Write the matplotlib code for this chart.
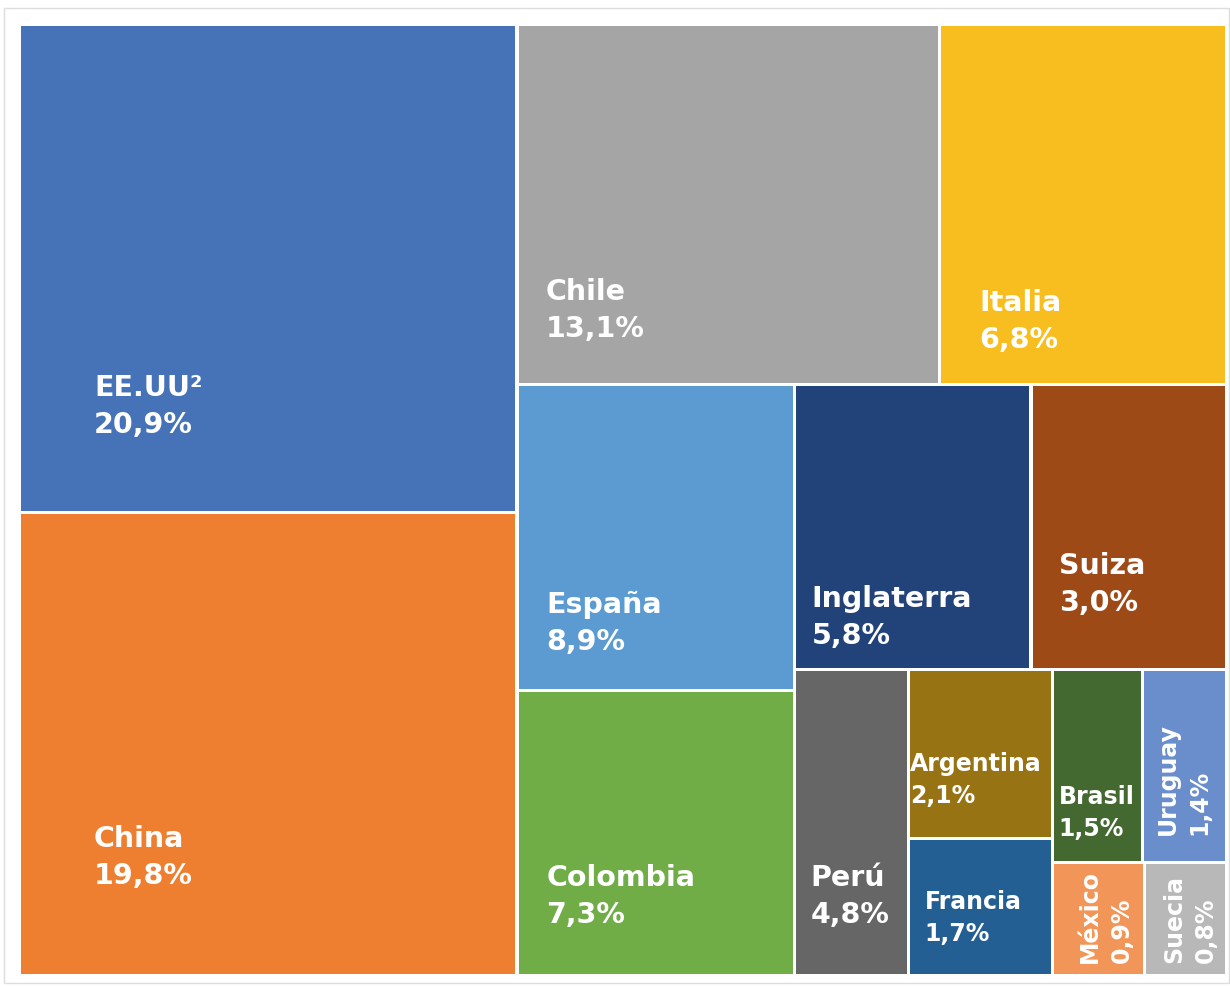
import matplotlib
matplotlib.use("Agg")
import matplotlib.pyplot as plt
from matplotlib.patches import Rectangle

# Países y porcentajes (como aparecen en las etiquetas)
paises = ["EE.UU²", "China", "Chile", "Italia", "España", "Colombia", "Inglaterra",
          "Suiza", "Perú", "Argentina", "Francia", "Brasil", "Uruguay", "México", "Suecia"]
porcentajes = [20.9, 19.8, 13.1, 6.8, 8.9, 7.3, 5.8, 3.0, 4.8, 2.1, 1.7, 1.5, 1.4, 0.9, 0.8]

# Tamaño de cada caja (no siempre coincide con la etiqueta)
areas = [20.9, 19.8, 13.1, 8.9, 7.3, 6.8, 5.8, 4.8, 3.0, 2.1, 1.7, 1.5, 1.4, 0.9, 0.8]

colores = ["#4672B8", "#EE7F31", "#A5A5A5", "#F8BE1F", "#5B9BD2", "#70AD47", "#22427A",
           "#9E4A17", "#666666", "#977314", "#235F92", "#436830", "#6A8DCB", "#F19658", "#B8B8B8"]

# Estructura del treemap: los niveles alternan corte horizontal / vertical
arbol = [[0, 1], [[2, 3], [[4, 5], [[6, 7], [8, [9, 10], [[11, 12], [13, 14]]]]]]]

# Posición de la etiqueta dentro de cada caja (fracción de ancho / alto)
pos_x = [0.150, 0.150, 0.069, 0.137, 0.106, 0.106, 0.073, 0.141, 0.144, 0.014, 0.115, 0.069,
         0.38, 0.483, 0.44]
pos_y = [0.759, 0.721, 0.761, 0.792, 0.743, 0.681, 0.777, 0.660, 0.703, 0.598, 0.504, 0.693,
         0.852, 0.882, 0.882]
grande = [True] * 9 + [False] * 6
rotado = [False] * 12 + [True] * 3


def total(n):
    if isinstance(n, int):
        return areas[n]
    return sum(total(c) for c in n)


def partir(n, x, y, w, h, horiz, cajas):
    if isinstance(n, int):
        cajas[n] = (x, y, w, h)
        return
    s = total(n)
    for c in n:
        f = total(c) / s
        if horiz:
            partir(c, x, y, w * f, h, not horiz, cajas)
            x += w * f
        else:
            partir(c, x, y, w, h * f, not horiz, cajas)
            y += h * f


cajas = {}
partir(arbol, 19.5, 25.5, 1207.5, 951.0, True, cajas)

fig = plt.figure(figsize=(12.3, 9.87), dpi=100)
ax = fig.add_axes([0, 0, 1, 1])
ax.set_xlim(0, 1230)
ax.set_ylim(987, 0)
ax.axis("off")

# marco gris claro
ax.add_patch(Rectangle((4, 9), 1225, 975, fill=False, edgecolor="#DDDDDD", linewidth=1))

hueco = 1.6
for i in range(len(paises)):
    x, y, w, h = cajas[i]
    ax.add_patch(Rectangle((x + hueco, y + hueco), w - 2 * hueco, h - 2 * hueco,
                           facecolor=colores[i], edgecolor="none"))

    texto_pct = f"{porcentajes[i]:.1f}".replace(".", ",") + "%"
    size = 20.5 if grande[i] else 17
    salto = 37 if grande[i] else 32
    tx = x + w * pos_x[i]
    ty = y + h * pos_y[i]
    estilo = dict(color="white", fontsize=size, fontweight="bold", family="DejaVu Sans")
    if rotado[i]:
        ax.text(tx, ty, paises[i], rotation=90, rotation_mode="anchor",
                ha="left", va="baseline", **estilo)
        ax.text(tx + salto, ty, texto_pct, rotation=90, rotation_mode="anchor",
                ha="left", va="baseline", **estilo)
    else:
        ax.text(tx, ty, paises[i], ha="left", va="baseline", **estilo)
        ax.text(tx, ty + salto, texto_pct, ha="left", va="baseline", **estilo)

fig.savefig("out.png", dpi=100)
